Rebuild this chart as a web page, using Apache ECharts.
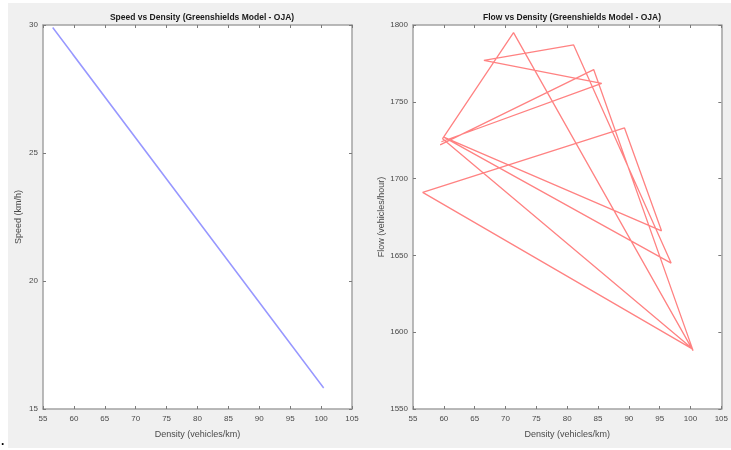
<!DOCTYPE html>
<html>
<head>
<meta charset="utf-8">
<script src="https://cdn.jsdelivr.net/npm/echarts@6/dist/echarts.min.js"></script>
<style>
html,body{margin:0;padding:0;background:#ffffff;}
#chart{width:731px;height:450px;}
</style>
</head>
<body>
<div id="chart"></div>
<script>
// Data (sequence order as plotted)
const density = [59.6, 85.6, 66.5, 81.05, 96.86, 60.0, 95.3, 89.3, 56.57, 100.36, 59.8, 71.3, 100.42, 84.3, 59.4];
const speed   = [28.93, 20.58, 26.71, 22.04, 16.96, 28.80, 17.46, 19.39, 29.90, 15.84, 28.86, 25.17, 15.82, 21.00, 28.99];
const flow    = [1724, 1762, 1777, 1787, 1645, 1727, 1666, 1733, 1691, 1589, 1726, 1795, 1588, 1771, 1722];

const densityTicks = [55, 60, 65, 70, 75, 80, 85, 90, 95, 100, 105];
const speedTicks = [15, 20, 25, 30];
const flowTicks = [1550, 1600, 1650, 1700, 1750, 1800];

const titles = ['Speed vs Density (Greenshields Model - OJA)', 'Flow vs Density (Greenshields Model - OJA)'];
const xName = 'Density (vehicles/km)';
const yNames = ['Speed (km/h)', 'Flow (vehicles/hour)'];

const chart = echarts.init(document.getElementById('chart'), null, {renderer: 'canvas'});

const axisColor = '#a3a3a3';
const labelColor = '#4a4a4a';
const font = 'Liberation Sans, Arial, sans-serif';

function xAx(gi, pos, showLabel) {
  return {
    type: 'value', gridIndex: gi, position: pos,
    min: densityTicks[0], max: densityTicks[densityTicks.length - 1], interval: 5,
    axisLine: {show: true, onZero: false, lineStyle: {color: axisColor, width: 1.5}},
    axisTick: {show: true, inside: true, length: 3, lineStyle: {color: '#7a7a7a', width: 1}},
    splitLine: {show: false},
    axisLabel: {show: showLabel, color: labelColor, fontSize: 8, fontFamily: font, margin: 6,
                formatter: v => String(v)},
    name: showLabel ? xName : '', nameLocation: 'middle', nameGap: 21,
    nameTextStyle: {color: labelColor, fontSize: 9, fontFamily: font}
  };
}
function yAx(gi, pos, showLabel, ticks, name) {
  return {
    type: 'value', gridIndex: gi, position: pos,
    min: ticks[0], max: ticks[ticks.length - 1], interval: ticks[1] - ticks[0],
    axisLine: {show: true, onZero: false, lineStyle: {color: axisColor, width: 1.5}},
    axisTick: {show: true, inside: true, length: 3, lineStyle: {color: '#7a7a7a', width: 1}},
    splitLine: {show: false},
    axisLabel: {show: showLabel, color: labelColor, fontSize: 8, fontFamily: font, margin: 5,
                formatter: v => String(v)},
    name: showLabel ? name : '', nameLocation: 'middle', nameGap: 20,
    nameTextStyle: {color: labelColor, fontSize: 9, fontFamily: font}
  };
}

const option = {
  animation: false,
  backgroundColor: '#ffffff',
  graphic: [
    {type: 'rect', shape: {x: 8, y: 3, width: 723, height: 445}, style: {fill: '#f0f0f0'}, z: -10, silent: true},
    {type: 'text', left: 1, top: 436, style: {text: '.', fill: '#000', fontSize: 12, fontWeight: 'bold', fontFamily: font}, z: 10}
  ],
  title: [
    {text: titles[0], left: 197, top: 8, textAlign: 'center',
     textStyle: {fontSize: 8.5, fontWeight: 'bold', color: '#1a1a1a', fontFamily: font}},
    {text: titles[1], left: 567, top: 8, textAlign: 'center',
     textStyle: {fontSize: 8.5, fontWeight: 'bold', color: '#1a1a1a', fontFamily: font}}
  ],
  grid: [
    {left: 43, top: 25, width: 309, height: 384, show: true, backgroundColor: '#ffffff', borderWidth: 0},
    {left: 413, top: 25, width: 309, height: 384, show: true, backgroundColor: '#ffffff', borderWidth: 0}
  ],
  xAxis: [xAx(0, 'bottom', true), xAx(0, 'top', false), xAx(1, 'bottom', true), xAx(1, 'top', false)],
  yAxis: [
    yAx(0, 'left', true, speedTicks, yNames[0]), yAx(0, 'right', false, speedTicks, ''),
    yAx(1, 'left', true, flowTicks, yNames[1]), yAx(1, 'right', false, flowTicks, '')
  ],
  series: [
    {type: 'line', xAxisIndex: 0, yAxisIndex: 0, showSymbol: false, symbol: 'none',
     data: density.map((d, i) => [d, speed[i]]),
     lineStyle: {color: '#9898ff', width: 1.5}},
    {type: 'line', xAxisIndex: 2, yAxisIndex: 2, showSymbol: false, symbol: 'none',
     data: density.map((d, i) => [d, flow[i]]),
     lineStyle: {color: '#ff8282', width: 1.3}}
  ]
};
chart.setOption(option);
</script>
</body>
</html>
